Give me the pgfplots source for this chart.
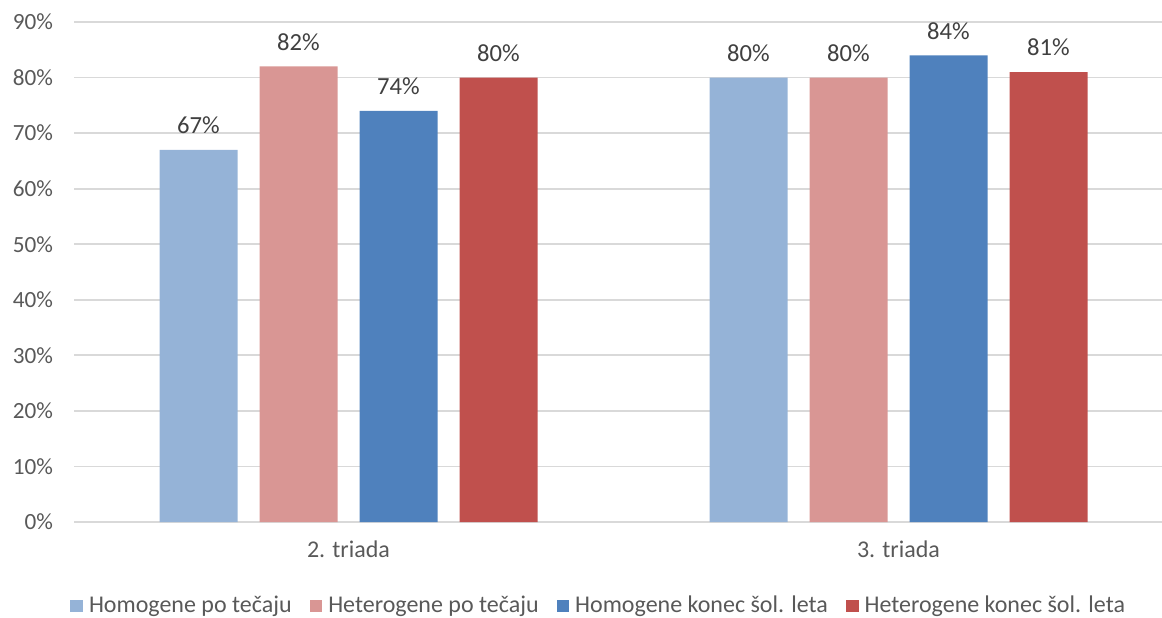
\documentclass[border=0pt]{standalone}
\usepackage{pgfplots}
\pgfplotsset{compat=1.18}
\usepackage{fontspec}
\setmainfont{Carlito}
\definecolor{hpt}{HTML}{95B3D7}
\definecolor{htt}{HTML}{D99694}
\definecolor{hkl}{HTML}{4F81BD}
\definecolor{tkl}{HTML}{C0504D}
\definecolor{gridgray}{HTML}{D9D9D9}
\definecolor{txtgray}{HTML}{595959}
\definecolor{lblgray}{HTML}{404040}
\begin{document}
\begin{tikzpicture}[font=\fontsize{11.6}{13}\selectfont]
\begin{axis}[
  at={(0,0)}, anchor=south west,
  scale only axis, width=544pt, height=250pt,
  ybar=11pt, bar width=39pt,
  xmin=-0.4991, xmax=1.4791,
  ymin=0, ymax=90,
  xtick={0,1}, xticklabels={2. triada, 3. triada},
  ytick={0,10,...,90},
  yticklabels={0\%,10\%,20\%,30\%,40\%,50\%,60\%,70\%,80\%,90\%},
  major tick length=0pt,
  axis line style={draw=none},
  ymajorgrids, grid style={gridgray, line width=0.9pt},
  tick label style={txtgray},
  yticklabel style={xshift=-7pt},
  xticklabel style={yshift=-6pt, font=\fontsize{12}{14}\selectfont},
  /pgf/number format/assume math mode=true,
  nodes near coords={\pgfmathprintnumber{\pgfplotspointmeta}\%},
  every node near coord/.append style={lblgray, yshift=4.5pt,
    font=\fontsize{12.3}{14}\selectfont},
  legend style={at={(axis description cs:0,0)}, anchor=west,
    xshift=-2pt, yshift=-42pt, draw=none, fill=none,
    text=txtgray, inner sep=0pt, font=\fontsize{12}{14}\selectfont,
    /tikz/every odd column/.append style={column sep=1pt},
    /tikz/every even column/.append style={column sep=7pt}},
  legend columns=-1,
  legend image code/.code={\fill[#1] (0pt,-3.2pt) rectangle (6.3pt,3.2pt);},
  clip=false,
]
\addplot[fill=hpt, draw=none] coordinates {(0,67) (1,80)};
\addplot[fill=htt, draw=none] coordinates {(0,82) (1,80)};
\addplot[fill=hkl, draw=none] coordinates {(0,74) (1,84)};
\addplot[fill=tkl, draw=none] coordinates {(0,80) (1,81)};
\legend{Homogene po tečaju, Heterogene po tečaju, Homogene konec šol. leta, Heterogene konec šol. leta}
\end{axis}
\pgfresetboundingbox
\path (-37pt,-47.5pt) rectangle (544pt,261pt);
\end{tikzpicture}
\end{document}
